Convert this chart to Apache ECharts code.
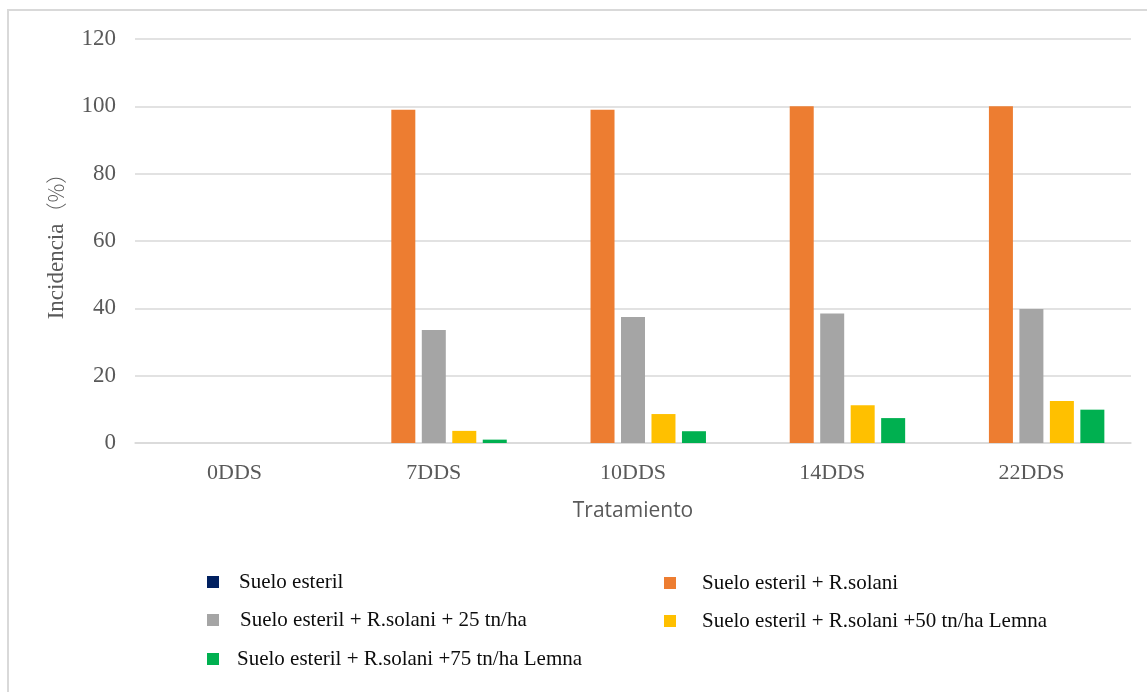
<!DOCTYPE html>
<html>
<head>
<meta charset="utf-8">
<script src="https://cdn.jsdelivr.net/npm/echarts@6/dist/echarts.min.js"></script>
<style>
  html, body { margin: 0; padding: 0; background: #fff; }
  #chart { width: 1147px; height: 692px; }
</style>
</head>
<body>
<div id="chart"></div>
<script>
// Incidence (%) per sampling day for each soil treatment
const categories = ['0DDS', '7DDS', '10DDS', '14DDS', '22DDS'];
const seriesNames = [
  'Suelo esteril',
  'Suelo esteril + R.solani',
  'Suelo esteril + R.solani + 25 tn/ha',
  'Suelo esteril + R.solani +50 tn/ha Lemna',
  'Suelo esteril + R.solani +75 tn/ha Lemna'
];
const sueloEsteril = [0, 0, 0, 0, 0];
const rSolani = [0, 99, 99, 100, 100];
const rSolani25 = [0, 33.6, 37.4, 38.5, 39.8];
const lemna50 = [0, 3.6, 8.6, 11.2, 12.5];
const lemna75 = [0, 1, 3.5, 7.4, 9.9];
const yTicks = { min: 0, max: 120, interval: 20 };

const colors = ['#002060', '#ED7D31', '#A5A5A5', '#FFC000', '#00B050'];
const values = [sueloEsteril, rSolani, rSolani25, lemna50, lemna75];

const serif = '"Liberation Serif", "Times New Roman", serif';
const cjk = '"Noto Sans CJK SC", sans-serif';

// legend placement: two columns, three rows
const legendSlots = [
  { left: 207, top: 571, pad: 15 },
  { left: 664, top: 572, pad: 21 },
  { left: 207, top: 609, pad: 16 },
  { left: 664, top: 610, pad: 21 },
  { left: 207, top: 648, pad: 13 }
];

const chart = echarts.init(document.getElementById('chart'), null, { renderer: 'canvas' });

chart.setOption({
  animation: false,
  color: colors,
  graphic: [{
    type: 'rect',
    silent: true,
    shape: { x: 8, y: 10, width: 1400, height: 1000 },
    style: { fill: 'none', stroke: '#d9d9d9', lineWidth: 2 }
  }],
  grid: { left: 135, right: 16, top: 39, bottom: 249, containLabel: false },
  legend: seriesNames.map((name, i) => ({
    data: [name],
    left: legendSlots[i].left,
    top: legendSlots[i].top,
    orient: 'horizontal',
    icon: 'rect',
    itemWidth: 12,
    itemHeight: 12,
    selectedMode: false,
    padding: 0,
    textStyle: {
      fontFamily: serif,
      fontSize: 21,
      color: '#0d0d0d',
      lineHeight: 22,
      padding: [0, 0, 0, legendSlots[i].pad]
    }
  })),
  xAxis: {
    type: 'category',
    data: categories,
    name: 'Tratamiento',
    nameLocation: 'middle',
    nameGap: 58,
    nameTextStyle: { fontFamily: '"Open Sans", "Noto Sans", sans-serif', fontSize: 21, color: '#595959' },
    axisLine: { show: true, lineStyle: { color: '#d9d9d9', width: 1.5 } },
    axisTick: { show: false },
    axisLabel: { fontFamily: serif, fontSize: 22, color: '#595959', margin: 19 },
    splitLine: { show: false }
  },
  yAxis: {
    type: 'value',
    min: yTicks.min,
    max: yTicks.max,
    interval: yTicks.interval,
    name: '{t|Incidencia}{p|（%）}',
    nameLocation: 'middle',
    nameGap: 67,
    nameTextStyle: {
      fontFamily: serif, fontSize: 23, color: '#595959',
      rich: {
        t: { fontFamily: serif, fontSize: 23, color: '#595959' },
        p: { fontFamily: cjk, fontSize: 21, color: '#595959', fontWeight: 300 }
      }
    },
    axisLine: { show: false },
    axisTick: { show: false },
    axisLabel: { fontFamily: serif, fontSize: 23, color: '#595959', margin: 19 },
    splitLine: { show: true, lineStyle: { color: '#d9d9d9', width: 1.5 } }
  },
  series: seriesNames.map((name, i) => ({
    name: name,
    type: 'bar',
    data: values[i],
    barWidth: 24,
    barGap: '27%',
    itemStyle: { color: colors[i] }
  }))
});
</script>
</body>
</html>
